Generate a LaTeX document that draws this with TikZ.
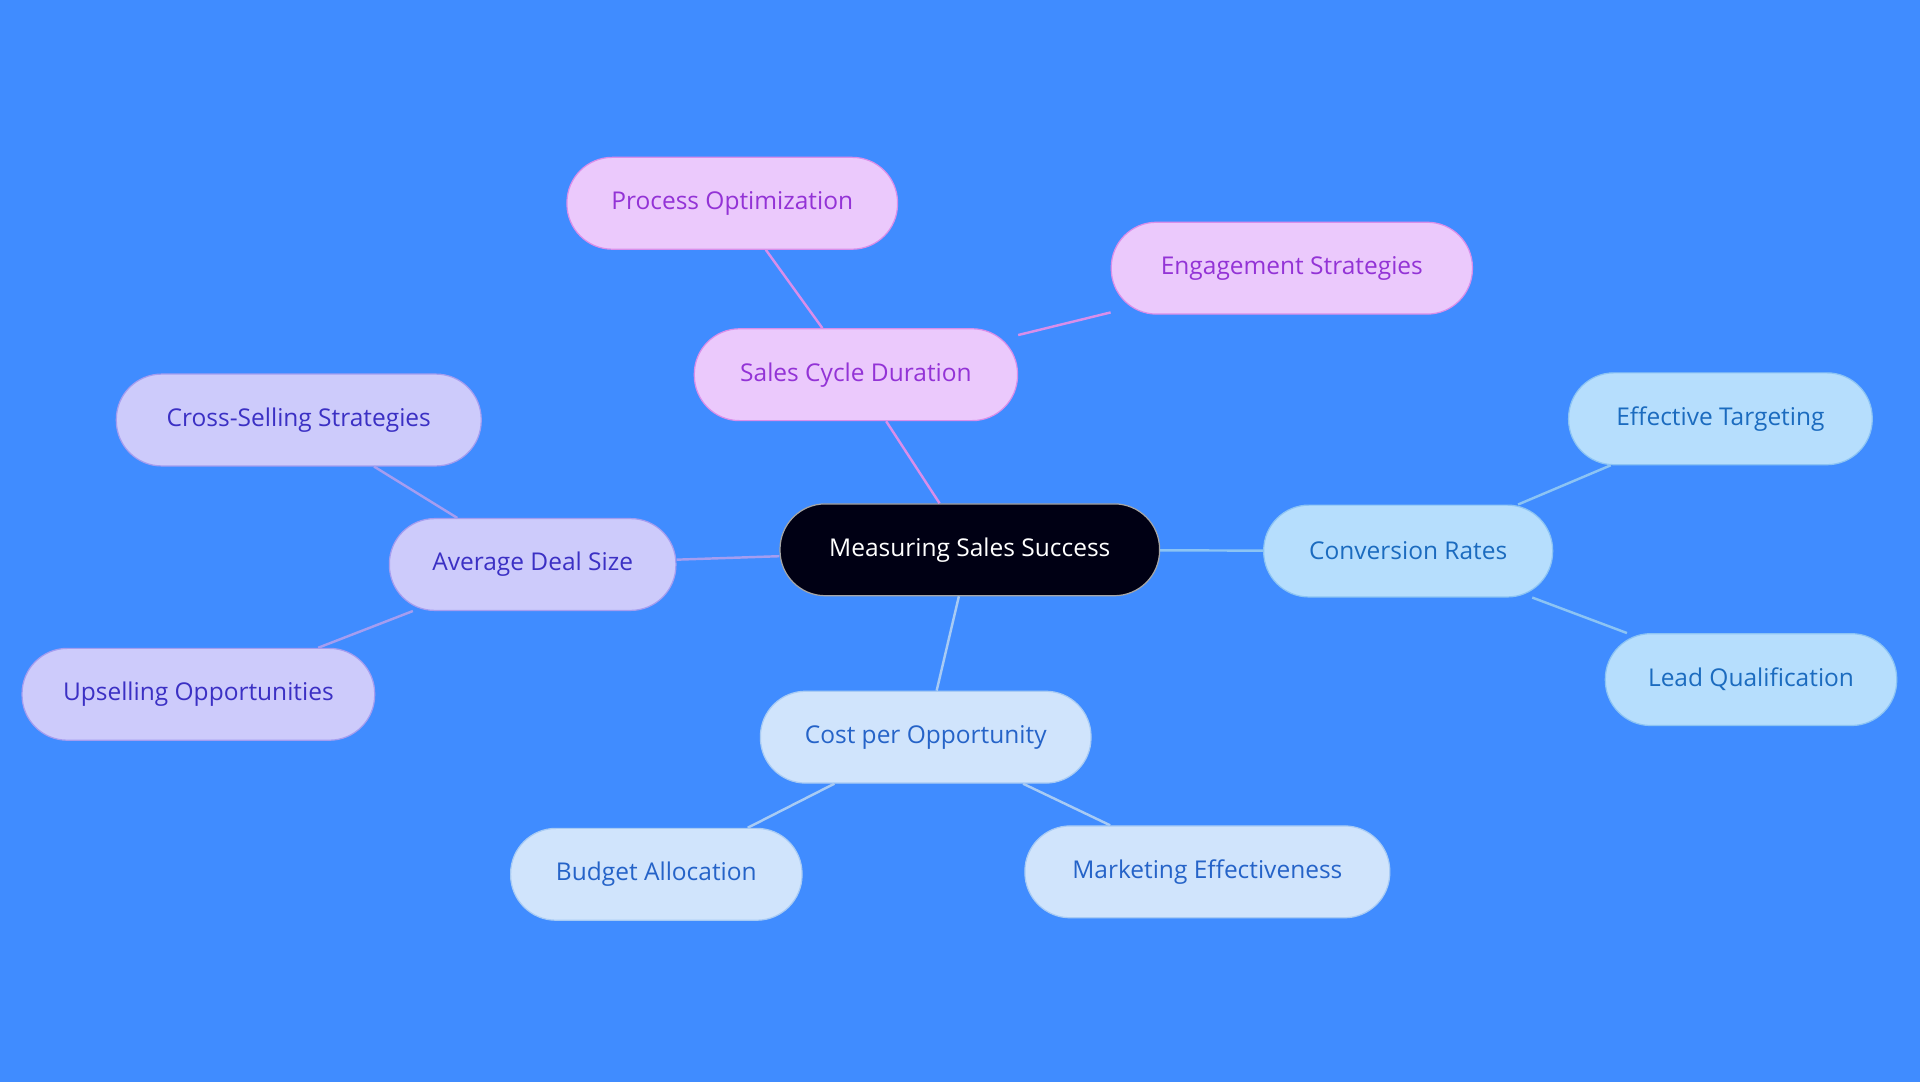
\documentclass[tikz,border=0pt]{standalone}
\usepackage{fontspec}
\setmainfont{Open Sans}
\definecolor{bg}{HTML}{408CFF}
\definecolor{pf}{HTML}{EBC9FC}\definecolor{pt}{HTML}{9333D6}\definecolor{pb}{HTML}{D98EEA}
\definecolor{vf}{HTML}{CDCBFB}\definecolor{vt}{HTML}{3B30C4}\definecolor{vb}{HTML}{A59DF0}
\definecolor{cf}{HTML}{B6DEFD}\definecolor{ct}{HTML}{1B6BBF}\definecolor{cb}{HTML}{8CC4F4}
\definecolor{bf}{HTML}{D0E4FC}\definecolor{bt}{HTML}{2563C8}\definecolor{bb}{HTML}{A8CBF4}
\tikzset{
 n/.style={rounded corners=37pt,minimum height=75pt,inner sep=0pt,font=\fontsize{20}{24}\selectfont,line width=1pt},
 P/.style={n,fill=pf,draw=pb,text=pt},
 V/.style={n,fill=vf,draw=vb,text=vt},
 C/.style={n,fill=cf,draw=cb,text=ct},
 B/.style={n,fill=bf,draw=bb,text=bt},
 e/.style={line width=2pt}
}
\begin{document}
\begin{tikzpicture}[x=1pt,y=-1pt]
\fill[bg] (0,0) rectangle (1568,884);
\useasboundingbox (0,0) rectangle (1568,884);
\node[n,fill=black!92!blue,draw=gray!70,text=white,minimum width=310pt] (m) at (792,449) {Measuring Sales Success};
\node[P,minimum width=264pt] (s) at (699,306) {Sales Cycle Duration};
\node[P,minimum width=270pt] (s1) at (598,166) {Process Optimization};
\node[P,minimum width=295pt] (s2) at (1055,219) {Engagement Strategies};
\node[V,minimum width=234pt] (a) at (435,461) {Average Deal Size};
\node[V,minimum width=298pt] (a1) at (244,343) {Cross-Selling Strategies};
\node[V,minimum width=288pt] (a2) at (162,567) {Upselling Opportunities};
\node[C,minimum width=236pt] (c) at (1150,450) {Conversion Rates};
\node[C,minimum width=248pt] (c1) at (1405,342) {Effective Targeting};
\node[C,minimum width=238pt] (c2) at (1430,555) {Lead Qualification};
\node[B,minimum width=270pt] (b) at (756,602) {Cost per Opportunity};
\node[B,minimum width=238pt] (b1) at (536,714) {Budget Allocation};
\node[B,minimum width=298pt] (b2) at (986,712) {Marketing Effectiveness};
\draw[e,pb] (m) -- (s); \draw[e,pb] (s) -- (s1); \draw[e,pb] (s) -- (s2);
\draw[e,vb] (m) -- (a); \draw[e,vb] (a) -- (a1); \draw[e,vb] (a) -- (a2);
\draw[e,cb] (m) -- (c); \draw[e,cb] (c) -- (c1); \draw[e,cb] (c) -- (c2);
\draw[e,bb] (m) -- (b); \draw[e,bb] (b) -- (b1); \draw[e,bb] (b) -- (b2);
\end{tikzpicture}
\end{document}
